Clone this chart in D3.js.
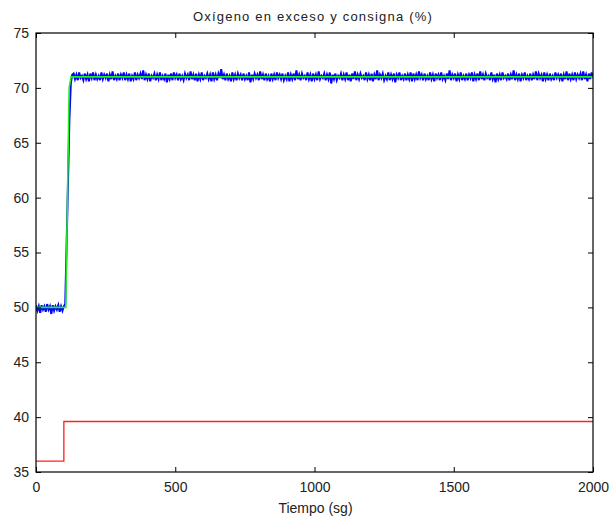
<!DOCTYPE html>
<html><head><meta charset="utf-8">
<script src="https://cdn.jsdelivr.net/npm/d3@7"></script>
<style>body{margin:0;background:#fff}svg{display:block}text{font-family:"Liberation Sans",Arial,sans-serif;fill:#222}</style>
</head><body><svg id="c" width="611" height="525"></svg>
<script>
const title = "Oxígeno en exceso y consigna (%)";
const xLabel = "Tiempo (sg)";
const xTicks = [0, 500, 1000, 1500, 2000];
const yTicks = [35, 40, 45, 50, 55, 60, 65, 70, 75];
// setpoint (green)
const spTime = [0, 107, 119, 126, 2000];
const spValue = [50, 50, 70, 71, 71];
// red step signal
const redTime = [0, 100, 2000];
const redValue = [36, 39.6, 39.6];
// measured (blue), sampled every 5 s from 0 to 2000
const blueStep = 5;
const blueValue = [
50.2,49.7,50.1,49.5,50.2,49.8,50.1,49.6,50.3,49.8,50.1,49.4,50.2,49.7,50.1,49.8,50.2,49.6,50.1,49.7,50.1,
50.3,55.8,61.5,67.2,70.4,71.2,
71.3,70.8,71.2,70.7,71.4,70.9,71.1,70.7,71.3,70.8,71.2,70.6,71.3,70.9,71.4,70.7,71.2,70.8,71.1,70.7,
71.4,70.8,71.2,70.9,71.3,70.6,71.2,70.8,71.5,70.7,71.1,70.8,71.3,70.7,71.2,70.9,71.4,70.7,71.2,70.8,
71.3,70.6,71.1,70.8,71.4,70.7,71.2,70.9,71.3,70.8,71.6,70.7,71.2,70.8,71.3,70.6,71.1,70.9,71.3,70.7,
71.2,70.8,71.4,70.7,71.1,70.8,71.3,70.5,71.2,70.8,71.3,70.7,71.4,70.9,71.2,70.7,71.3,70.8,71.1,70.7,
71.3,70.9,71.2,70.7,71.5,70.8,71.2,70.7,71.3,70.6,71.2,70.8,71.4,70.7,71.1,70.9,71.3,70.8,71.2,70.6,
71.4,70.8,71.2,70.7,71.3,70.9,71.7,70.8,71.2,70.7,71.3,70.8,71.1,70.6,71.4,70.8,71.2,70.7,71.3,70.9,
71.2,70.7,71.3,70.8,71.1,70.7,71.4,70.5,71.2,70.8,71.3,70.9,71.2,70.7,71.5,70.8,71.2,70.7,71.3,70.8,
71.1,70.6,71.3,70.8,71.2,70.7,71.4,70.9,71.2,70.8,71.3,70.7,71.1,70.8,71.4,70.6,71.2,70.8,71.3,70.7,
71.6,70.8,71.2,70.7,71.3,70.9,71.1,70.7,71.4,70.8,71.2,70.6,71.3,70.8,71.2,70.7,71.5,70.8,71.1,70.9,
71.3,70.7,71.2,70.8,71.4,70.4,71.2,70.8,71.3,70.7,71.1,70.9,71.3,70.7,71.2,70.8,71.4,70.7,71.2,70.6,
71.3,70.8,71.5,70.7,71.2,70.8,71.3,70.9,71.1,70.7,71.4,70.8,71.2,70.7,71.3,70.6,71.2,70.8,71.6,70.7,
71.2,70.9,71.3,70.7,71.1,70.8,71.4,70.7,71.2,70.8,71.3,70.5,71.2,70.9,71.4,70.7,71.1,70.8,71.3,70.7,
71.2,70.8,71.4,70.6,71.3,70.8,71.2,70.7,71.5,70.9,71.2,70.7,71.3,70.8,71.1,70.7,71.4,70.8,71.2,70.6,
71.3,70.9,71.2,70.7,71.4,70.8,71.1,70.7,71.3,70.8,71.6,70.7,71.2,70.9,71.3,70.6,71.2,70.8,71.4,70.7,
71.1,70.8,71.3,70.7,71.2,70.9,71.4,70.6,71.2,70.8,71.3,70.7,71.5,70.8,71.2,70.7,71.3,70.9,71.1,70.7,
71.4,70.8,71.2,70.5,71.3,70.8,71.2,70.7,71.4,70.9,71.1,70.8,71.3,70.7,71.2,70.8,71.6,70.7,71.2,70.8,
71.3,70.6,71.2,70.9,71.4,70.7,71.1,70.8,71.3,70.7,71.2,70.8,71.5,70.7,71.3,70.9,71.2,70.6,71.4,70.8,
71.2,70.7,71.3,70.8,71.1,70.7,71.4,70.9,71.2,70.8,71.3,70.6,71.2,70.8,71.5,70.7,71.3,70.8,71.2,70.7,
71.4,70.8,71.2,70.9,71.3,70.7,71.5,70.8,71.2,70.6,71.3,70.8,71.4,70.9
];

const L = 36, R = 593, T = 33, B = 472;
const svg = d3.select("#c");
const x = d3.scaleLinear().domain([0, 2000]).range([L, R]);
const y = d3.scaleLinear().domain([35, 75]).range([B, T]);

svg.append("clipPath").attr("id","clp").append("rect")
  .attr("x", L).attr("y", T).attr("width", R - L).attr("height", B - T);
const g = svg.append("g").attr("clip-path", "url(#clp)");

const line = d3.line().x(d => x(d[0])).y(d => y(d[1]));
g.append("path").datum(blueValue.map((v, i) => [i * blueStep, v]))
  .attr("d", line).attr("fill", "none").attr("stroke", "#0000ff").attr("stroke-width", 2);
g.append("path").datum(spTime.map((t, i) => [t, spValue[i]]))
  .attr("d", line).attr("fill", "none").attr("stroke", "#22ee22").attr("stroke-width", 1.6);
g.append("path").datum(redTime.map((t, i) => [t, redValue[i]]))
  .attr("d", d3.line().curve(d3.curveStepAfter).x(d => x(d[0])).y(d => y(d[1])))
  .attr("fill", "none").attr("stroke", "#ff2020").attr("stroke-width", 1.3);

// axes
const fmt = d3.format("d");
const ax = (gen, tx, ty) => svg.append("g").attr("transform", `translate(${tx},${ty})`).call(gen);
const styl = sel => { sel.select(".domain").remove(); sel.selectAll("line").attr("stroke", "#000"); sel.selectAll("text").attr("font-size", 14).attr("fill", "#222"); };
ax(d3.axisBottom(x).tickValues(xTicks).tickFormat(fmt).tickSizeInner(-5).tickSizeOuter(0).tickPadding(10), 0, B).call(styl);
ax(d3.axisTop(x).tickValues(xTicks).tickFormat("").tickSizeInner(-5).tickSizeOuter(0), 0, T).call(styl);
ax(d3.axisLeft(y).tickValues(yTicks).tickFormat(fmt).tickSizeInner(-5).tickSizeOuter(0).tickPadding(7), L, 0).call(styl);
ax(d3.axisRight(y).tickValues(yTicks).tickFormat("").tickSizeInner(-5).tickSizeOuter(0), R, 0).call(styl);

svg.append("rect").attr("x", L).attr("y", T).attr("width", R - L).attr("height", B - T)
  .attr("fill", "none").attr("stroke", "#000").attr("stroke-width", 1.2);

svg.append("text").attr("x", 313).attr("y", 21).attr("text-anchor", "middle")
  .attr("font-size", 13).attr("letter-spacing", "1.2px").text(title);
svg.append("text").attr("x", (L + R) / 2 + 1).attr("y", 513).attr("text-anchor", "middle")
  .attr("font-size", 14).text(xLabel);
</script></body></html>
